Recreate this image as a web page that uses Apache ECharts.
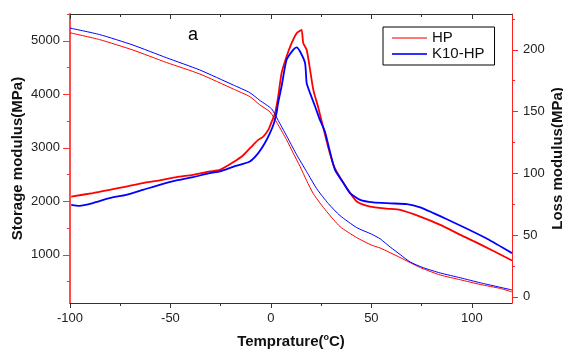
<!DOCTYPE html>
<html><head><meta charset="utf-8">
<script src="https://cdn.jsdelivr.net/npm/echarts@6/dist/echarts.min.js"></script>
<style>html,body{margin:0;padding:0;background:#fff}#c{width:563px;height:351px}</style>
</head><body><div id="c"></div>
<script>
// Storage modulus (left axis, MPa)
const hpStorageT = [-100,-85.3,-68.7,-52,-35.4,-18.8,-10.5,-5.5,-0.5,3.6,7.8,11.1,14.5,17.8,21.1,24.4,27.8,34.4,42.7,50,54.4,64.3,74.3,84.3,94.3,104.2,114.2,120];
const hpStorage  = [5149,5022,4827,4594,4379,4100,3956,3802,3671,3429,3149,2901,2652,2385,2143,1969,1807,1528,1322,1183,1127,950,763,623,534,446,372,307];
const k10StorageT = [-100,-85.3,-68.7,-52,-35.4,-18.8,-10.5,-5.5,0.35,4,8.6,12.8,17.8,22.8,28.6,34.4,42.7,50,54.4,59.4,64.3,69.3,76,84.3,94.3,104.2,120];
const k10Storage  = [5237,5116,4920,4683,4454,4174,4031,3885,3727,3485,3168,2870,2553,2236,1956,1733,1509,1388,1298,1145,1006,866,758,661,571,478,344];
// Loss modulus (right axis, MPa)
const hpLossT = [-99.4,-88.6,-80.3,-72,-63.7,-55.4,-47,-38.8,-30.4,-25.4,-18.8,-13.8,-8.8,-6.3,-3.8,-1.3,0.35,2,3.6,5.3,7.8,10.3,12.8,14.5,15.3,16.1,17.8,19.5,21.1,23.6,26.1,28.6,31.1,32.8,37.8,42.7,49.4,57.7,64.3,74.3,84.3,94.3,104.2,120];
const hpLoss  = [81.2,84,86.6,89.3,92.1,94.2,96.9,98.8,101.5,102.8,108.9,114.6,123.1,127.1,129.8,135.2,141.7,148.2,161.9,181.1,194.6,205.4,213.5,215.4,216.2,205.4,200,183.8,167.6,153,136.8,120.6,106.9,101.2,88,77.2,73.1,71.4,70.4,65,58.3,50.2,42.5,29.4];
const k10LossT = [-99.4,-95.3,-88.6,-80.3,-72,-63.7,-55.4,-47,-38.8,-30.4,-25.4,-18.8,-10.5,-6.3,-3,-0.5,1.5,2.8,3.6,5.3,7.8,11.1,12.8,14.5,17,17.8,19.5,22,24.4,26.9,29.4,31.9,36.1,39.4,44.4,51,59.4,67.7,74.3,80.9,87.6,97.6,107.6,120];
const k10Loss  = [74.5,73.7,75.9,79.9,82.6,86.6,90.7,94.2,96.9,100.2,101.6,105.3,109.6,116.4,124.5,132.5,140.6,148.7,157.1,170.3,191.9,200,202,198.6,189.2,173,164.9,154.1,143.3,133.6,117.4,102.8,92.1,84,78.5,76.4,75.7,75.1,72.5,67.8,62.8,55.1,47,35.4];
// Tick labels
const xLabels = [-100,-50,0,50,100];
const xMinor = [-75,-25,25,75];
const leftLabels = [1000,2000,3000,4000,5000];
const leftMinor = [500,1500,2500,3500,4500,5500];
const rightLabels = [0,50,100,150,200];
const rightMinor = [25,75,125,175,225];

function zip(a,b){return a.map((v,i)=>[v,b[i]]);}
const font = '"Liberation Sans", Arial, sans-serif';
const dark = '#333';
const fmt = v => String(v);
const labelStyle = {fontSize:13, color:'#222', fontFamily:font, formatter:fmt};
const XR = {min:-100, max:120};
const LR = {min:100, max:5500};
const RR = {min:-5, max:229};
function noAxis(extra){return Object.assign({type:'value', splitLine:{show:false}, axisLabel:{show:false}, axisLine:{show:false,onZero:false}}, extra);}

const chart = echarts.init(document.getElementById('c'), null, {renderer:'canvas'});
chart.setOption({
  animation:false,
  backgroundColor:'#fff',
  grid:{left:70, right:51, top:14, bottom:48, containLabel:false, outerBoundsMode:'none'},
  graphic:[{type:'text', left:188, top:26, style:{text:'a', fontSize:18, fill:'#000', fontFamily:font}}],
  legend:{
    orient:'vertical', left:383, top:27, itemWidth:35, itemHeight:2, itemGap:0, icon:'rect',
    padding:[3,10,3,9], borderColor:'#000', borderWidth:1, backgroundColor:'#fff',
    textStyle:{fontSize:15, color:'#111', fontFamily:font, lineHeight:16},
    data:[{name:'HP', itemStyle:{color:'#ff7878'}},
          {name:'K10-HP', itemStyle:{color:'#3030ff'}}]
  },
  xAxis:[
    Object.assign({type:'value', position:'bottom', splitLine:{show:false},
      axisLine:{show:true,onZero:false,lineStyle:{color:dark,width:1}},
      axisTick:{show:true, customValues:xLabels, length:5, lineStyle:{color:dark}},
      axisLabel:Object.assign({customValues:xLabels, margin:9}, labelStyle),
      name:'Temprature({s|o}C)', nameLocation:'middle', nameGap:30, nameMoveOverlap:false,
      nameTextStyle:{fontSize:15, fontWeight:'bold', color:'#111', fontFamily:font, lineHeight:18,
        rich:{s:{fontSize:9, fontWeight:'bold', color:'#111', fontFamily:font, verticalAlign:'top', lineHeight:18}}}
    }, XR),
    noAxis(Object.assign({position:'bottom', axisTick:{show:true, customValues:xMinor, length:3, lineStyle:{color:dark}}}, XR)),
    noAxis(Object.assign({position:'top', axisLine:{show:true,onZero:false,lineStyle:{color:dark,width:1}},
      axisTick:{show:true, inside:true, customValues:xLabels, length:5, lineStyle:{color:dark}}}, XR)),
    noAxis(Object.assign({position:'top', axisTick:{show:true, inside:true, customValues:xMinor, length:3, lineStyle:{color:dark}}}, XR))
  ],
  yAxis:[
    Object.assign({type:'value', position:'left', splitLine:{show:false},
      axisLine:{show:true,onZero:false,lineStyle:{color:'#ff4d4d',width:2}},
      axisTick:{show:true, customValues:leftLabels, length:7, lineStyle:{color:'#ff3030'}},
      axisLabel:Object.assign({customValues:leftLabels, margin:10}, labelStyle),
      name:'Storage modulus(MPa)', nameLocation:'middle', nameGap:45, nameRotate:90, nameMoveOverlap:false,
      nameTextStyle:{fontSize:15, fontWeight:'bold', color:'#111', fontFamily:font}
    }, LR),
    noAxis(Object.assign({position:'left', axisTick:{show:true, customValues:leftMinor, length:3, lineStyle:{color:'#ff3030'}}}, LR)),
    Object.assign({type:'value', position:'right', splitLine:{show:false},
      axisLine:{show:true,onZero:false,lineStyle:{color:'#ff2020',width:1}},
      axisTick:{show:true, customValues:rightLabels, length:6, lineStyle:{color:'#ff2020'}},
      axisLabel:Object.assign({customValues:rightLabels, margin:11}, labelStyle),
      name:'Loss modulus(MPa)', nameLocation:'middle', nameGap:38, nameRotate:90, nameMoveOverlap:false,
      nameTextStyle:{fontSize:15, fontWeight:'bold', color:'#111', fontFamily:font}
    }, RR),
    noAxis(Object.assign({position:'right', axisTick:{show:true, customValues:rightMinor, length:3, lineStyle:{color:'#ff2020'}}}, RR))
  ],
  series:[
    {type:'line', name:'HP', xAxisIndex:0, yAxisIndex:0, data:zip(hpStorageT,hpStorage), symbol:'none', smooth:0.2,
     lineStyle:{color:'#ff0000', width:1}, itemStyle:{color:'#ff0000'}},
    {type:'line', name:'HP', xAxisIndex:0, yAxisIndex:2, data:zip(hpLossT,hpLoss), symbol:'none', smooth:0.2,
     lineStyle:{color:'#ff0000', width:1.8}, itemStyle:{color:'#ff0000'}},
    {type:'line', name:'K10-HP', xAxisIndex:0, yAxisIndex:0, data:zip(k10StorageT,k10Storage), symbol:'none', smooth:0.2,
     lineStyle:{color:'#0000ff', width:1}, itemStyle:{color:'#0000ff'}},
    {type:'line', name:'K10-HP', xAxisIndex:0, yAxisIndex:2, data:zip(k10LossT,k10Loss), symbol:'none', smooth:0.2,
     lineStyle:{color:'#0000ff', width:1.8}, itemStyle:{color:'#0000ff'}}
  ]
});
</script></body></html>
